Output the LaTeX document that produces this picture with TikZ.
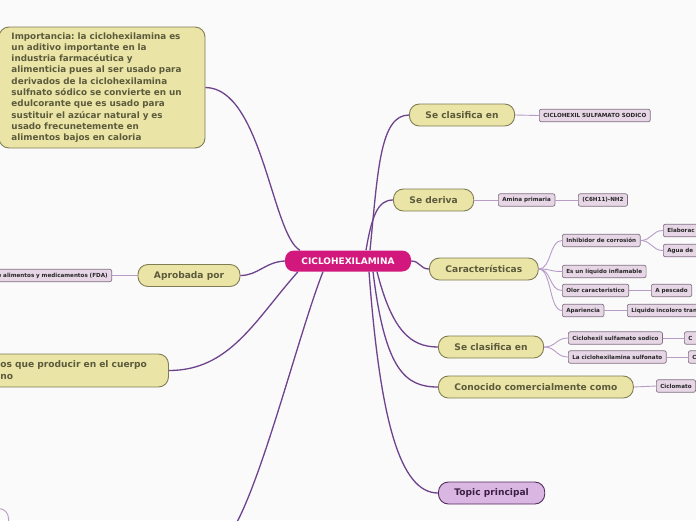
\documentclass[tikz,border=0pt]{standalone}
\usepackage{fontspec}
\setmainfont{DejaVu Sans}
\usetikzlibrary{positioning}
\definecolor{mmkhaki}{RGB}{234,229,166}
\definecolor{mmkhakiedge}{RGB}{128,124,84}
\definecolor{mmolive}{RGB}{92,90,60}
\definecolor{mmmagenta}{RGB}{210,24,124}
\definecolor{mmlilac}{RGB}{230,214,230}
\definecolor{mmlilacedge}{RGB}{130,112,130}
\definecolor{mmplum}{RGB}{110,66,140}
\definecolor{mmthin}{RGB}{184,156,200}
\definecolor{mmtopic}{RGB}{218,182,226}
\definecolor{mmtopicedge}{RGB}{84,44,96}
\definecolor{mmbg}{RGB}{250,250,250}
\frenchspacing
\tikzset{
  central/.style={fill=mmmagenta, text=white, rounded corners=9pt, minimum width=126pt, minimum height=21pt, font=\fontsize{9}{10}\selectfont\bfseries},
  maintopic/.style={draw=mmkhakiedge, fill=mmkhaki, text=mmolive, rounded corners=10pt, minimum height=22pt, inner xsep=16pt, line width=0.9pt, font=\fontsize{9.1}{11}\selectfont\bfseries},
  subtopic/.style={draw=mmlilacedge, fill=mmlilac, text=black!85, rounded corners=2pt, minimum height=12.5pt, inner xsep=4pt, inner ysep=0pt, line width=0.7pt, font=\fontsize{5.6}{6}\selectfont\bfseries},
  branch/.style={draw=mmplum, line width=1.3pt},
  twig/.style={draw=mmthin, line width=0.9pt}
}

\begin{document}
\begin{tikzpicture}[x=1pt, y=-1pt]
\useasboundingbox (0,0) rectangle (696,520);
\fill[mmbg] (0,0) rectangle (696,520);

% Central topic
\node[central] (cen) at (348,261) {CICLOHEXILAMINA};

% Main topics
\node[maintopic, inner xsep=12pt, minimum width=206pt, minimum height=121pt, text width=181pt, align=left, font=\fontsize{8.8}{11.3}\selectfont\bfseries] (imp) at (102,87.5)
  {Importancia: la ciclohexilamina es\\ un aditivo importante en la\\ industria farmacéutica y\\ alimenticia pues al ser usado para\\ derivados de la ciclohexilamina\\ sulfnato sódico se convierte en un\\ edulcorante que es usado para\\ sustituir el azúcar natural y es\\ usado frecunetemente en\\ alimentos bajos en caloria};
\node[maintopic, anchor=west] (clas1) at (409,115) {Se clasifica en};
\node[maintopic, anchor=west] (deriva) at (393,200) {Se deriva};
\node[maintopic, anchor=west] (carac) at (429,269) {Características};
\node[maintopic, anchor=west] (clas2) at (438,347) {Se clasifica en};
\node[maintopic, anchor=west] (conoc) at (438,387) {Conocido comercialmente como};
\node[maintopic, anchor=west, fill=mmtopic, draw=mmtopicedge, text=mmtopicedge!70!black] (topic) at (438,493) {Topic principal};
\node[maintopic] (aprob) at (189,275.5) {Aprobada por};
\node[maintopic, anchor=west, minimum height=33pt, inner xsep=15pt, text width=153pt, align=left, font=\fontsize{9.1}{12}\selectfont\bfseries] (efectos) at (-15,370.5)
  {os que producir en el cuerpo\\no};
\node[draw=mmthin, line width=0.9pt, rounded corners=10pt, minimum width=60pt, minimum height=40pt, anchor=north east] (lowleft) at (9,508) {};
\coordinate (lowend) at (236,524);

% Subtopics
\node[subtopic, anchor=west] (sodico) at (539,115.5) {CICLOHEXIL SULFAMATO SODICO};
\node[subtopic, anchor=west] (amina) at (498,200) {Amina primaria};
\node[subtopic, anchor=west] (formula) at (578,200) {(C6H11)-NH2};
\node[subtopic, anchor=west] (inhib) at (562,240.5) {Inhibidor de corrosión};
\node[subtopic, anchor=west, text width=50pt, align=left] (elab) at (663,230.5) {Elaborac};
\node[subtopic, anchor=west, text width=50pt, align=left] (agua) at (663,250.5) {Agua de};
\node[subtopic, anchor=west] (inflam) at (562,271.5) {Es un líquido inflamable};
\node[subtopic, anchor=west] (olor) at (562,290.5) {Olor caracteristico};
\node[subtopic, anchor=west] (pescado) at (651,290.5) {A pescado};
\node[subtopic, anchor=west] (apar) at (562,310.5) {Apariencia};
\node[subtopic, anchor=west, text width=80pt, align=left] (incoloro) at (627,310.5) {Liquido incoloro tran};
\node[subtopic, anchor=west] (sulfam) at (568,338) {Ciclohexil sulfamato sodico};
\node[subtopic, anchor=west, text width=30pt, align=left] (csulfam) at (684,338) {C};
\node[subtopic, anchor=west] (sulfon) at (568,357) {La ciclohexilamina sulfonato};
\node[subtopic, anchor=west, text width=30pt, align=left] (csulfon) at (688,357) {C};
\node[subtopic, anchor=west] (ciclomato) at (656,386) {Ciclomato};
\node[subtopic, anchor=east, text width=125pt, align=right] (fda) at (112,275.5) {e alimentos y medicamentos (FDA)};

% Branches from the central topic
\draw[branch] ([xshift=-48pt]cen.north) .. controls (272,235) and (262,88) .. (imp.east);
\draw[branch] ([xshift=22pt]cen.north) .. controls (378,170) and (380,115) .. (clas1.west);
\draw[branch] ([xshift=18pt]cen.north) .. controls (372,215) and (378,200) .. (deriva.west);
\draw[branch] (cen.east) .. controls (420,261) and (420,269) .. (carac.west);
\draw[branch] ([xshift=29pt]cen.south) .. controls (392,330) and (410,347) .. (clas2.west);
\draw[branch] ([xshift=25pt]cen.south) .. controls (385,370) and (405,387) .. (conoc.west);
\draw[branch] ([xshift=21pt]cen.south) .. controls (380,420) and (400,493) .. (topic.west);
\draw[branch] (cen.west) .. controls (265,262) and (258,275.5) .. (aprob.east);
\draw[branch] ([xshift=-50pt]cen.south) .. controls (255,320) and (230,370.5) .. (efectos.east);
\draw[branch] ([xshift=-25pt]cen.south) .. controls (300,330) and (265,470) .. (lowend);

% Twigs to the subtopics
\draw[twig] (clas1.east) -- (sodico.west);
\draw[twig] (deriva.east) -- (amina.west);
\draw[twig] (amina.east) -- (formula.west);
\foreach \sub in {inhib,inflam,olor,apar}
  \draw[twig] (carac.east) .. controls +(13,0) and +(-13,0) .. (\sub.west);
\draw[twig] (inhib.east) .. controls +(11,0) and +(-11,0) .. (elab.west);
\draw[twig] (inhib.east) .. controls +(11,0) and +(-11,0) .. (agua.west);
\draw[twig] (olor.east) -- (pescado.west);
\draw[twig] (apar.east) -- (incoloro.west);
\draw[twig] (clas2.east) .. controls +(12,0) and +(-12,0) .. (sulfam.west);
\draw[twig] (clas2.east) .. controls +(12,0) and +(-12,0) .. (sulfon.west);
\draw[twig] (sulfam.east) -- (csulfam.west);
\draw[twig] (sulfon.east) -- (csulfon.west);
\draw[twig] (conoc.east) -- (ciclomato.west);
\draw[twig] (aprob.west) -- (fda.east);
\end{tikzpicture}
\end{document}
